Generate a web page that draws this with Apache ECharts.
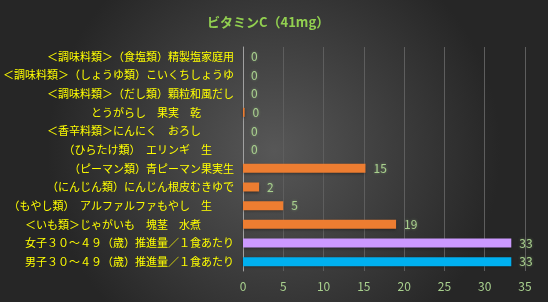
<!DOCTYPE html>
<html><head><meta charset="utf-8">
<script src="https://cdn.jsdelivr.net/npm/echarts@6/dist/echarts.min.js"></script>
<style>html,body{margin:0;padding:0;background:#2a2a2a}#c{width:548px;height:302px}</style>
</head><body><div id="c"></div>
<script>
const titleText = 'ビタミンC（41mg）';
const categories = [
  '＜調味料類＞（食塩類）精製塩家庭用',
  '＜調味料類＞（しょうゆ類）こいくちしょうゆ',
  '＜調味料類＞（だし類）顆粒和風だし',
  'とうがらし　果実　乾　　　',
  '＜香辛料類＞にんにく　おろし　　　',
  '（ひらたけ類）　エリンギ　生　　',
  '（ピーマン類）青ピーマン果実生',
  '（にんじん類）にんじん根皮むきゆで',
  '（もやし類）　アルファルファもやし　生　　',
  '＜いも類＞じゃがいも　塊茎　水煮　　　',
  '女子３０～４９（歳）推進量／１食あたり',
  '男子３０～４９（歳）推進量／１食あたり'
];
const values = [0, 0, 0, 0.2, 0, 0, 15.2, 2, 5, 19, 33.3, 33.3];
const barColors = ['#ed7d31','#ed7d31','#ed7d31','#ed7d31','#ed7d31','#ed7d31','#ed7d31','#ed7d31','#ed7d31','#ed7d31','#cc99ff','#00b0f0'];
const xTicks = [0, 5, 10, 15, 20, 25, 30, 35];

const chart = echarts.init(document.getElementById('c'));
chart.setOption({
  backgroundColor: {
    type: 'radial', x: 0.5, y: 0.5, r: 0.75,
    colorStops: [{offset: 0, color: '#575757'}, {offset: 1, color: '#262626'}]
  },
  animation: false,
  title: {
    text: titleText, left: 202, top: 11,
    textStyle: {color: '#92d050', fontSize: 13, fontWeight: 'bold', fontFamily: 'Noto Sans CJK JP'}
  },
  grid: {left: 242, right: 23, top: 47, bottom: 31, containLabel: false},
  xAxis: {
    type: 'value', min: xTicks[0], max: xTicks[xTicks.length - 1], interval: 5,
    axisLine: {show: false}, axisTick: {show: false},
    splitLine: {lineStyle: {color: '#5e5e5e', width: 1}},
    axisLabel: {color: '#a9d18e', fontSize: 12, fontFamily: 'Noto Sans CJK JP', margin: 9}
  },
  yAxis: {
    type: 'category', data: categories, inverse: true,
    axisLine: {lineStyle: {color: '#a0a0a0'}}, axisTick: {show: false},
    axisLabel: {color: '#ffff00', fontSize: 11, fontFamily: 'Noto Sans CJK JP', margin: 9,
      formatter: v => v + '\u200b'}
  },
  series: [{
    type: 'bar', barWidth: 9,
    data: values.map((v, i) => ({value: v, itemStyle: {color: barColors[i]}})),
    itemStyle: {shadowColor: 'rgba(0,0,0,0.5)', shadowBlur: 3, shadowOffsetY: 1},
    label: {
      show: true, position: 'right', distance: 8,
      formatter: p => Math.round(p.value),
      color: '#a9d18e', fontSize: 12, fontFamily: 'Noto Sans CJK JP',
      textShadowColor: 'rgba(169,209,142,0.5)', textShadowBlur: 3
    }
  }]
});
</script></body></html>
